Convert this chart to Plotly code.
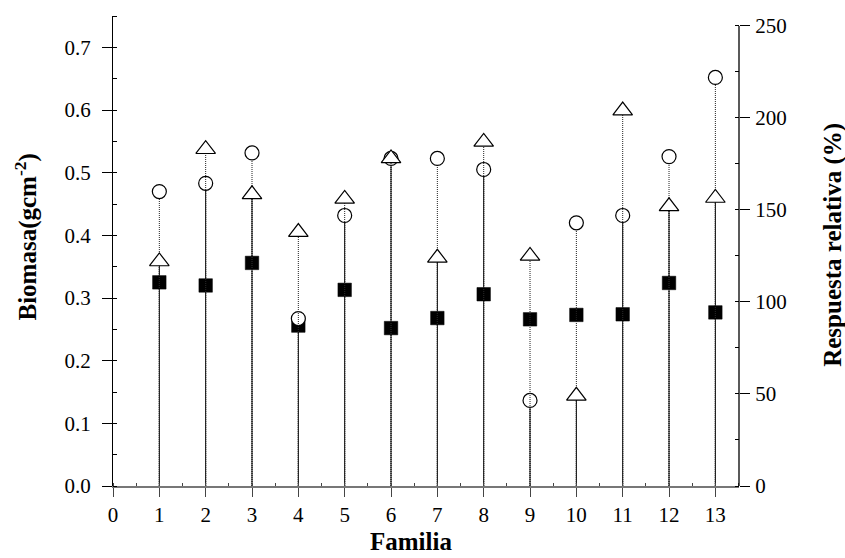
import plotly.graph_objects as go

# ---- data ----
familia = [1, 2, 3, 4, 5, 6, 7, 8, 9, 10, 11, 12, 13]
biomasa = [0.325, 0.320, 0.356, 0.256, 0.313, 0.252, 0.268, 0.306, 0.266, 0.273, 0.274, 0.324, 0.277]
resp_circulo = [160, 164.5, 181, 91, 147, 178, 178, 172, 46.5, 143, 147, 179, 222]
resp_triangulo = [122, 183, 158.5, 138, 156, 178, 124, 187, 125, 49, 204, 152, 156.5]
x_ticks = list(range(0, 14))
y1_ticks = [0.0, 0.1, 0.2, 0.3, 0.4, 0.5, 0.6, 0.7]
y2_ticks = [0, 50, 100, 150, 200, 250]

FONT = "Liberation Serif"


def stems(xs, lows, highs):
    X, Y = [], []
    for x, lo, hi in zip(xs, lows, highs):
        X += [x, x, None]
        Y += [lo, hi, None]
    return X, Y


lower = [min(c, t) for c, t in zip(resp_circulo, resp_triangulo)]
zeros = [0] * len(familia)

fig = go.Figure()

# solid part of the drop lines (0 -> lower open symbol)
sx, sy = stems(familia, zeros, lower)
fig.add_trace(go.Scatter(x=sx, y=sy, yaxis="y2", mode="lines",
                         line=dict(color="black", width=1), hoverinfo="skip", showlegend=False))

# circle drop lines + symbols
cx, cy = stems(familia, zeros, resp_circulo)
fig.add_trace(go.Scatter(x=cx, y=cy, yaxis="y2", mode="lines",
                         line=dict(color="#222", width=1, dash="1px,1px"), hoverinfo="skip", showlegend=False))
fig.add_trace(go.Scatter(x=familia, y=resp_circulo, yaxis="y2", mode="markers",
                         marker=dict(symbol="circle", size=14, color="white",
                                     line=dict(color="black", width=1.2)),
                         showlegend=False))

# triangle drop lines + symbols
tx, ty = stems(familia, zeros, resp_triangulo)
fig.add_trace(go.Scatter(x=tx, y=ty, yaxis="y2", mode="lines",
                         line=dict(color="#222", width=1, dash="1px,1px"), hoverinfo="skip", showlegend=False))
fig.add_trace(go.Scatter(x=familia, y=resp_triangulo, yaxis="y2", mode="markers",
                         marker=dict(symbol="triangle-up", size=17, color="white",
                                     line=dict(color="black", width=1.2)),
                         showlegend=False))

# squares (biomasa, left axis)
fig.add_trace(go.Scatter(x=familia, y=biomasa, mode="markers",
                         marker=dict(symbol="square", size=13.5, color="black",
                                     line=dict(color="black", width=0.5)),
                         showlegend=False))

tickfont = dict(family=FONT, size=21, color="black")
titlefont = dict(family=FONT, size=25, color="black")

fig.update_layout(
    width=845, height=558,
    margin=dict(l=113, r=106, t=16, b=72),
    paper_bgcolor="white", plot_bgcolor="white",
    font=dict(family=FONT, color="black"),
    xaxis=dict(range=[0, 13.51], tickvals=x_ticks, ticks="outside", ticklen=9,
               tickwidth=1, tickcolor="#444", showline=True, linecolor="#777",
               linewidth=2, showgrid=False, zeroline=False, tickfont=tickfont,
               ticklabelstandoff=0,
               minor=dict(dtick=0.5, ticks="inside", ticklen=3, tickcolor="#444", showgrid=False)),
    yaxis=dict(range=[0, 0.75], tickvals=y1_ticks, tickformat=".1f", ticks="outside",
               ticklen=10, tickwidth=1, tickcolor="black", showline=True,
               linecolor="black", linewidth=1.3, showgrid=False, zeroline=False,
               tickfont=tickfont, ticklabelstandoff=7,
               minor=dict(dtick=0.05, ticks="inside", ticklen=4, tickcolor="black", showgrid=False)),
    yaxis2=dict(range=[0, 255.4], tickvals=y2_ticks, overlaying="y", side="right",
                ticks="outside", ticklen=10, tickwidth=1, tickcolor="black",
                showline=False, showgrid=False, zeroline=False, tickfont=tickfont,
                ticklabelstandoff=1,
                minor=dict(dtick=25, ticks="inside", ticklen=4, tickcolor="black", showgrid=False)),
    shapes=[dict(type="line", xref="paper", x0=1, x1=1, yref="y2", y0=0, y1=250,
                 line=dict(color="black", width=1.3))],
    annotations=[
        dict(text="<b>Familia</b>", xref="paper", yref="paper", x=0.476, y=-0.118,
             showarrow=False, font=titlefont, xanchor="center", yanchor="middle"),
        dict(text="<b>Biomasa(gcm<sup>-2</sup>)</b>", xref="paper", yref="paper", x=-0.138, y=0.53,
             textangle=-90, showarrow=False, font=titlefont,
             xanchor="center", yanchor="middle"),
        dict(text="<b>Respuesta relativa (%)</b>", xref="paper", yref="paper", x=1.15, y=0.513,
             textangle=-90, showarrow=False, font=titlefont,
             xanchor="center", yanchor="middle"),
    ],
)

fig.write_html("out.html", config={"displayModeBar": False},
               post_script="document.body.style.margin='0';document.body.style.padding='0';")
